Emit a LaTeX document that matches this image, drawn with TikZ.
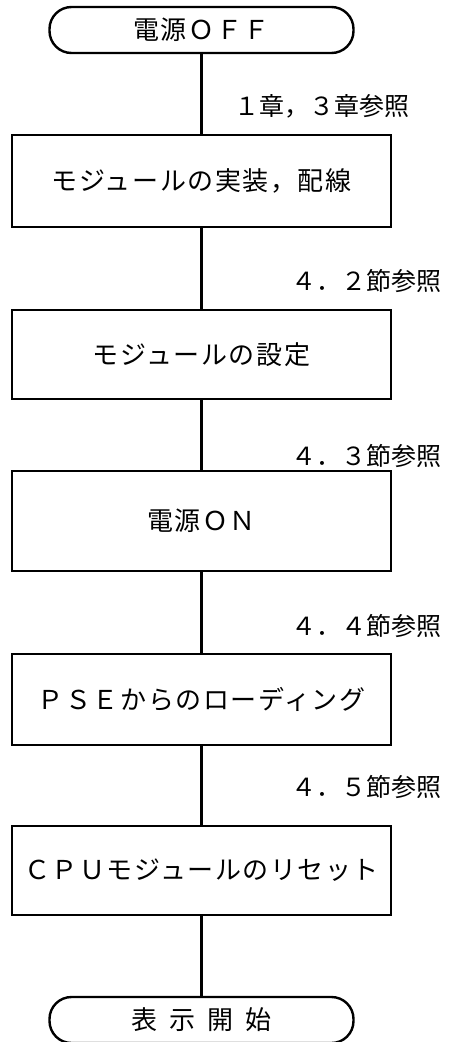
\documentclass[tikz,border=0pt]{standalone}
\usepackage{fontspec}
\setmainfont{Noto Sans CJK JP}
\newfontfamily\boxfont[LetterSpace=6]{Noto Sans CJK JP}
\begin{document}
\begin{tikzpicture}[x=1pt,y=-1pt,
  stepbox/.style={draw, line width=2.6pt, minimum width=379pt, inner sep=0pt,
    font=\boxfont\fontsize{26}{26}\selectfont},
  term/.style={draw, line width=2.4pt, rounded corners=22pt, minimum width=304pt,
    minimum height=46pt, inner sep=0pt, font=\boxfont\fontsize{26}{26}\selectfont},
  lbl/.style={inner sep=0pt, font=\fontsize{25}{25}\selectfont},
  conn/.style={line width=2.2pt}]
\useasboundingbox (0,0) rectangle (448,1042);
\node[term] (start) at (201.5,30) {電源ＯＦＦ};
\node[stepbox, minimum height=92pt] (b1) at (201.5,181) {モジュールの実装，配線};
\node[stepbox, minimum height=89pt] (b2) at (201.5,354.5) {モジュールの設定};
\node[stepbox, minimum height=100pt] (b3) at (201.5,521) {電源ＯＮ};
\node[stepbox, minimum height=91pt] (b4) at (201.5,699.5) {ＰＳＥからのローディング};
\node[stepbox, minimum height=89pt] (b5) at (201.5,870.5) {ＣＰＵモジュールのリセット};
\node[term] (stop) at (201.5,1020) {表\hspace{12pt}示\hspace{12pt}開\hspace{12pt}始};
\node[lbl] (l1) at (322,106) {１章，３章参照};
\node[lbl] (l2) at (366,281) {４．２節参照};
\node[lbl] (l3) at (366,456) {４．３節参照};
\node[lbl] (l4) at (366,626) {４．４節参照};
\node[lbl] (l5) at (366,787) {４．５節参照};
\draw[conn] (start) -- (b1);
\draw[conn] (b1) -- (b2);
\draw[conn] (b2) -- (b3);
\draw[conn] (b3) -- (b4);
\draw[conn] (b4) -- (b5);
\draw[conn] (b5) -- (stop);
\end{tikzpicture}
\end{document}
